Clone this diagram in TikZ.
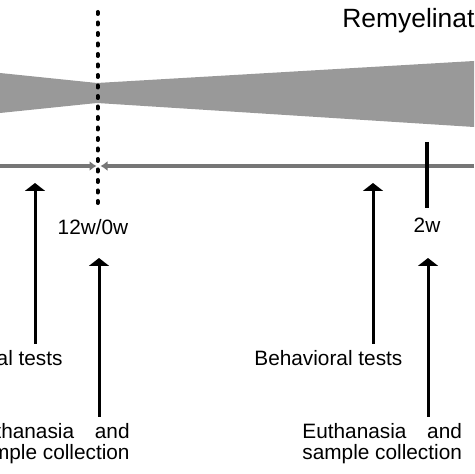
\documentclass[tikz,border=0pt]{standalone}
\usepackage{fontspec}
\setmainfont{Liberation Sans}
\usetikzlibrary{arrows.meta}
\definecolor{bandgray}{RGB}{153,153,153}
\definecolor{axisgray}{RGB}{118,118,118}
\newcommand{\euthlabel}{\begin{tabular}[t]{@{}l@{}}Euthanasia\hfill and\\sample collection\end{tabular}}
\begin{document}
\begin{tikzpicture}[x=0.5pt,y=-0.5pt,
    lbl/.style={inner sep=0pt,font=\fontsize{10.4}{10.5}\selectfont},
    uparrow/.style={line width=1.5pt,shorten <=3pt,-{Triangle[width=10pt,length=4pt]}},
    axis/.style={line width=2pt,draw=axisgray,-{Latex[width=5pt,length=3.5pt]}}]
  \clip (0,0) rectangle (474,474);
  \fill[bandgray] (0,73) -- (97,83) -- (474,61) -- (474,127) -- (97,103) -- (0,113) -- cycle;
  \coordinate(tl)at(0,166);\coordinate(tr)at(474,166);
  \coordinate(zl)at(96.5,166);\coordinate(zr)at(100.5,166);
  \draw[axis] (tl) -- (zl); \draw[axis] (tr) -- (zr);
  \coordinate(dtop)at(97.5,12);\coordinate(dbot)at(97.5,205);
  \draw[line width=2pt,line cap=round,dash pattern=on 1pt off 4.25pt] (dtop) -- (dbot);
  \coordinate(ktop)at(427,142);\coordinate(kbot)at(427,208);
  \draw[line width=2pt] (ktop) -- (kbot);
  \node[inner sep=0pt,anchor=base west,font=\fontsize{13.2}{15}\selectfont] (remy) at (342,27.5) {Remyelination};
  \node[lbl,anchor=base] (w0) at (93,235) {12w/0w};
  \node[lbl,anchor=base] (w2) at (427,233) {2w};
  \node[lbl,anchor=base east] (behA) at (63,365) {Behavioral tests};
  \node[lbl,anchor=base west] (behB) at (254,365) {Behavioral tests};
  \node[lbl,anchor=base east] (euthA) at (130,438) {\euthlabel};
  \node[lbl,anchor=base west] (euthB) at (302,438) {\euthlabel};
  % arrow tips
  \coordinate(a1)at(35,183);\coordinate(a2)at(99,258);
  \coordinate(a3)at(373,183);\coordinate(a4)at(428,258);
  \draw[uparrow] (behA.north -| a1) -- (a1);
  \draw[uparrow] (euthA.north -| a2) -- (a2);
  \draw[uparrow] (behB.north -| a3) -- (a3);
  \draw[uparrow] (euthB.north -| a4) -- (a4);
\end{tikzpicture}
\end{document}
